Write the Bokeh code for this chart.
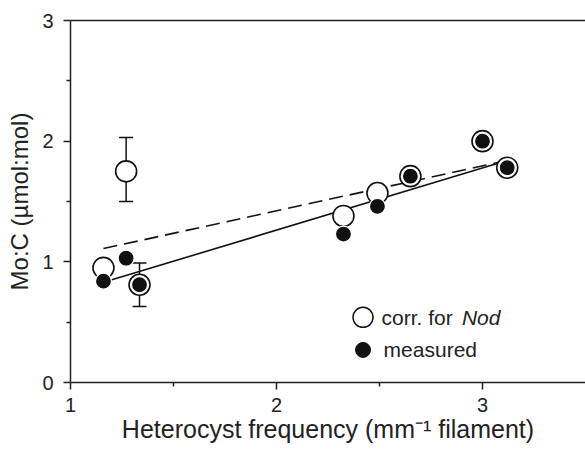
from bokeh.plotting import figure
from bokeh.models import (Range1d, FixedTicker, LinearAxis, Whisker, TeeHead,
                          ColumnDataSource, Label)
from bokeh.embed import file_html
from bokeh.resources import INLINE

# Data
freq = [1.16, 1.27, 1.335, 2.325, 2.49, 2.65, 3.0, 3.12]
mo_corr = [0.95, 1.75, 0.81, 1.38, 1.57, 1.71, 2.0, 1.78]
mo_meas = [0.84, 1.03, 0.81, 1.23, 1.46, 1.71, 2.0, 1.78]

err_x = [1.27, 1.335]
err_upper = [2.03, 0.99]
err_lower = [1.50, 0.63]

fit_meas_x = [1.16, 3.12]
fit_meas_y = [0.83, 1.84]
fit_corr_x = [1.16, 3.12]
fit_corr_y = [1.11, 1.84]

x_ticks = [1, 2, 3]
x_minor = [1.5, 2.5]
y_ticks = [0, 1, 2, 3]
y_minor = [0.5, 1.5, 2.5]

FONT = "Liberation Sans"

p = figure(width=585, height=449, output_backend="svg", toolbar_location=None,
           x_range=Range1d(1, 3.5), y_range=Range1d(0, 3),
           min_border_left=70, min_border_right=0, min_border_top=20,
           min_border_bottom=67)
p.outline_line_color = None
p.grid.visible = False
p.background_fill_color = "white"
p.border_fill_color = "white"

for ax in (p.xaxis[0], p.yaxis[0]):
    ax.axis_line_width = 1.5
    ax.axis_line_color = "#222222"
    ax.major_tick_line_width = 1.5
    ax.minor_tick_line_width = 1.5
    ax.major_tick_line_color = "#222222"
    ax.minor_tick_line_color = "#222222"
    ax.major_tick_out = 7
    ax.major_tick_in = 0
    ax.minor_tick_out = 4
    ax.minor_tick_in = 0
    ax.major_label_text_font = FONT
    ax.major_label_text_font_size = "20px"
    ax.major_label_text_color = "#222222"
    ax.axis_label_text_font = FONT
    ax.axis_label_text_font_size = "24px"
    ax.axis_label_text_font_style = "normal"
    ax.axis_label_text_color = "#222222"

p.xaxis[0].axis_label_text_font_size = "25px"
p.xaxis[0].ticker = FixedTicker(ticks=x_ticks, minor_ticks=x_minor)
p.yaxis[0].ticker = FixedTicker(ticks=y_ticks, minor_ticks=y_minor)
p.xaxis[0].major_label_standoff = 8
p.yaxis[0].major_label_standoff = 10
p.xaxis[0].axis_label = "Heterocyst frequency (mm\u207b\u00b9 filament)"
p.yaxis[0].axis_label = "Mo:C (\u00b5mol:mol)"
p.xaxis[0].axis_label_standoff = 0
p.yaxis[0].axis_label_standoff = 6

top = LinearAxis(ticker=FixedTicker(ticks=[]), axis_line_width=1.5,
                 axis_line_color="#222222", major_tick_line_color=None,
                 minor_tick_line_color=None, major_label_text_font_size="0px")
p.add_layout(top, "above")

# Fit lines
p.line(fit_meas_x, fit_meas_y, line_color="#111111", line_width=1.6)
p.line(fit_corr_x, fit_corr_y, line_color="#111111", line_width=1.6,
       line_dash="14 7")

# Error bars
esrc = ColumnDataSource(dict(x=err_x, upper=err_upper, lower=err_lower))
w = Whisker(source=esrc, base="x", upper="upper", lower="lower",
            line_color="#111111", line_width=1.5,
            upper_head=TeeHead(size=14, line_width=1.5, line_color="#111111"),
            lower_head=TeeHead(size=14, line_width=1.5, line_color="#111111"))
p.add_layout(w)

# Points
p.scatter(freq, mo_corr, size=21, fill_color="white", line_color="#111111",
          line_width=1.6)
p.scatter(freq, mo_meas, size=16, fill_color="#111111", line_color="white",
          line_width=1.2)

# Legend (manual, to allow italic "Nod")
leg_x = 2.42
leg_y1 = 0.54
leg_y2 = 0.27
p.scatter([leg_x], [leg_y1], size=20, fill_color="white", line_color="#111111",
          line_width=1.5)
p.scatter([leg_x], [leg_y2], size=15, fill_color="#111111", line_color="#111111")
p.add_layout(Label(x=2.51, y=leg_y1, text="corr. for ", text_font=FONT,
                   text_font_size="21px", text_baseline="middle",
                   text_color="#222222"))
p.add_layout(Label(x=2.90, y=leg_y1, text="Nod", text_font=FONT,
                   text_font_size="21px", text_font_style="italic",
                   text_baseline="middle", text_color="#222222"))
p.add_layout(Label(x=2.52, y=leg_y2, text="measured", text_font=FONT,
                   text_font_size="21px", text_baseline="middle",
                   text_color="#222222"))

open("out.html", "w").write(file_html(p, INLINE))
